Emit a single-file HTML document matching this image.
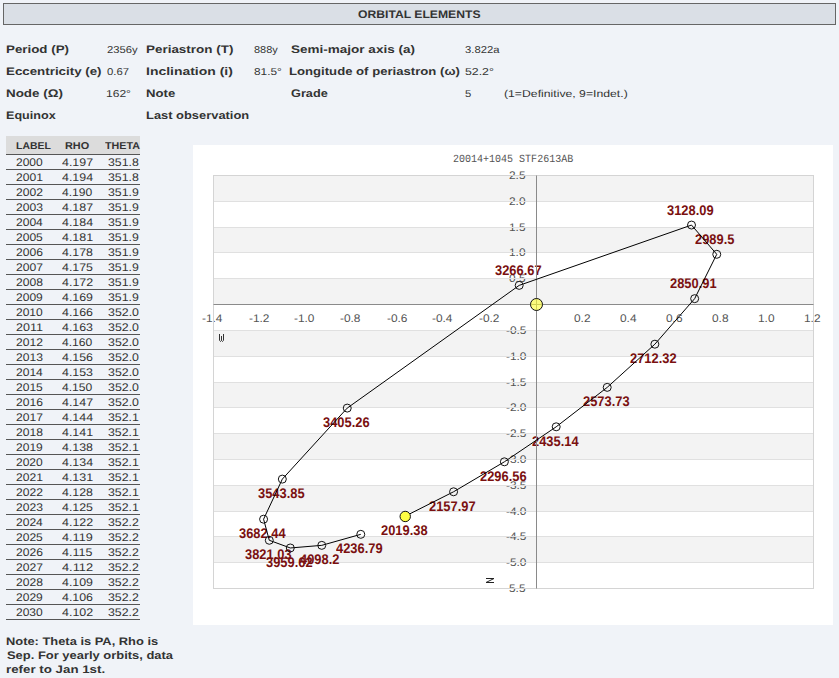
<!DOCTYPE html>
<html><head><meta charset="utf-8"><style>
html,body{margin:0;padding:0;}
body{text-rendering:geometricPrecision;width:839px;height:678px;background:#f0f3f8;position:relative;overflow:hidden;font-family:"Liberation Sans",sans-serif;}
.t{position:absolute;white-space:nowrap;height:0;line-height:0;transform-origin:0 0;}
</style></head><body>
<div style="position:absolute;left:3px;top:3px;width:831px;height:20px;background:#dadfe6;border:1px solid #666"></div>
<div style="position:absolute;left:6px;top:136px;width:134px;height:18px;background:#dcdcdc"></div><div style="position:absolute;left:6px;top:154px;width:134px;height:1px;background:#555"></div><div style="position:absolute;left:6px;top:169px;width:134px;height:1px;background:#555"></div><div style="position:absolute;left:6px;top:184px;width:134px;height:1px;background:#555"></div><div style="position:absolute;left:6px;top:199px;width:134px;height:1px;background:#555"></div><div style="position:absolute;left:6px;top:214px;width:134px;height:1px;background:#555"></div><div style="position:absolute;left:6px;top:229px;width:134px;height:1px;background:#555"></div><div style="position:absolute;left:6px;top:244px;width:134px;height:1px;background:#555"></div><div style="position:absolute;left:6px;top:259px;width:134px;height:1px;background:#555"></div><div style="position:absolute;left:6px;top:274px;width:134px;height:1px;background:#555"></div><div style="position:absolute;left:6px;top:289px;width:134px;height:1px;background:#555"></div><div style="position:absolute;left:6px;top:304px;width:134px;height:1px;background:#555"></div><div style="position:absolute;left:6px;top:319px;width:134px;height:1px;background:#555"></div><div style="position:absolute;left:6px;top:334px;width:134px;height:1px;background:#555"></div><div style="position:absolute;left:6px;top:349px;width:134px;height:1px;background:#555"></div><div style="position:absolute;left:6px;top:364px;width:134px;height:1px;background:#555"></div><div style="position:absolute;left:6px;top:379px;width:134px;height:1px;background:#555"></div><div style="position:absolute;left:6px;top:394px;width:134px;height:1px;background:#555"></div><div style="position:absolute;left:6px;top:409px;width:134px;height:1px;background:#555"></div><div style="position:absolute;left:6px;top:424px;width:134px;height:1px;background:#555"></div><div style="position:absolute;left:6px;top:439px;width:134px;height:1px;background:#555"></div><div style="position:absolute;left:6px;top:454px;width:134px;height:1px;background:#555"></div><div style="position:absolute;left:6px;top:469px;width:134px;height:1px;background:#555"></div><div style="position:absolute;left:6px;top:484px;width:134px;height:1px;background:#555"></div><div style="position:absolute;left:6px;top:499px;width:134px;height:1px;background:#555"></div><div style="position:absolute;left:6px;top:514px;width:134px;height:1px;background:#555"></div><div style="position:absolute;left:6px;top:529px;width:134px;height:1px;background:#555"></div><div style="position:absolute;left:6px;top:544px;width:134px;height:1px;background:#555"></div><div style="position:absolute;left:6px;top:559px;width:134px;height:1px;background:#555"></div><div style="position:absolute;left:6px;top:574px;width:134px;height:1px;background:#555"></div><div style="position:absolute;left:6px;top:589px;width:134px;height:1px;background:#555"></div><div style="position:absolute;left:6px;top:604px;width:134px;height:1px;background:#555"></div><div style="position:absolute;left:6px;top:619px;width:134px;height:1px;background:#555"></div>
<svg width="839" height="678" style="position:absolute;left:0;top:0"><rect x="193" y="145" width="640" height="480" fill="#fff"/><rect x="213" y="175" width="601" height="26" fill="#f3f3f3"/><rect x="213" y="227" width="601" height="25" fill="#f3f3f3"/><rect x="213" y="278" width="601" height="26" fill="#f3f3f3"/><rect x="213" y="330" width="601" height="26" fill="#f3f3f3"/><rect x="213" y="382" width="601" height="25" fill="#f3f3f3"/><rect x="213" y="433" width="601" height="26" fill="#f3f3f3"/><rect x="213" y="485" width="601" height="26" fill="#f3f3f3"/><rect x="213" y="536" width="601" height="26" fill="#f3f3f3"/></svg>
<div class="t" style="left:509.40px;top:176px;font-size:11px;font-weight:normal;font-family:'Liberation Sans';color:#545454;transform:scaleX(1.0800);">2.5</div><div class="t" style="left:509.34px;top:202px;font-size:11px;font-weight:normal;font-family:'Liberation Sans';color:#545454;transform:scaleX(1.0800);">2.0</div><div class="t" style="left:509.40px;top:228px;font-size:11px;font-weight:normal;font-family:'Liberation Sans';color:#545454;transform:scaleX(1.0800);">1.5</div><div class="t" style="left:509.34px;top:253px;font-size:11px;font-weight:normal;font-family:'Liberation Sans';color:#545454;transform:scaleX(1.0800);">1.0</div><div class="t" style="left:509.40px;top:279px;font-size:11px;font-weight:normal;font-family:'Liberation Sans';color:#545454;transform:scaleX(1.0800);">0.5</div><div class="t" style="left:505.78px;top:331px;font-size:11px;font-weight:normal;font-family:'Liberation Sans';color:#545454;transform:scaleX(1.0800);">-0.5</div><div class="t" style="left:505.69px;top:357px;font-size:11px;font-weight:normal;font-family:'Liberation Sans';color:#545454;transform:scaleX(1.0800);">-1.0</div><div class="t" style="left:505.78px;top:383px;font-size:11px;font-weight:normal;font-family:'Liberation Sans';color:#545454;transform:scaleX(1.0800);">-1.5</div><div class="t" style="left:505.69px;top:408px;font-size:11px;font-weight:normal;font-family:'Liberation Sans';color:#545454;transform:scaleX(1.0800);">-2.0</div><div class="t" style="left:505.78px;top:434px;font-size:11px;font-weight:normal;font-family:'Liberation Sans';color:#545454;transform:scaleX(1.0800);">-2.5</div><div class="t" style="left:505.69px;top:460px;font-size:11px;font-weight:normal;font-family:'Liberation Sans';color:#545454;transform:scaleX(1.0800);">-3.0</div><div class="t" style="left:505.78px;top:486px;font-size:11px;font-weight:normal;font-family:'Liberation Sans';color:#545454;transform:scaleX(1.0800);">-3.5</div><div class="t" style="left:505.69px;top:512px;font-size:11px;font-weight:normal;font-family:'Liberation Sans';color:#545454;transform:scaleX(1.0800);">-4.0</div><div class="t" style="left:505.78px;top:537px;font-size:11px;font-weight:normal;font-family:'Liberation Sans';color:#545454;transform:scaleX(1.0800);">-4.5</div><div class="t" style="left:505.69px;top:563px;font-size:11px;font-weight:normal;font-family:'Liberation Sans';color:#545454;transform:scaleX(1.0800);">-5.0</div><div class="t" style="left:509.40px;top:589px;font-size:11px;font-weight:normal;font-family:'Liberation Sans';color:#545454;transform:scaleX(1.0800);">5.5</div><div class="t" style="left:202.02px;top:319px;font-size:11px;font-weight:normal;font-family:'Liberation Sans';color:#545454;transform:scaleX(1.0800);">-1.4</div><div class="t" style="left:248.51px;top:319px;font-size:11px;font-weight:normal;font-family:'Liberation Sans';color:#545454;transform:scaleX(1.0800);">-1.2</div><div class="t" style="left:293.89px;top:319px;font-size:11px;font-weight:normal;font-family:'Liberation Sans';color:#545454;transform:scaleX(1.0800);">-1.0</div><div class="t" style="left:340.42px;top:319px;font-size:11px;font-weight:normal;font-family:'Liberation Sans';color:#545454;transform:scaleX(1.0800);">-0.8</div><div class="t" style="left:386.86px;top:319px;font-size:11px;font-weight:normal;font-family:'Liberation Sans';color:#545454;transform:scaleX(1.0800);">-0.6</div><div class="t" style="left:432.33px;top:319px;font-size:11px;font-weight:normal;font-family:'Liberation Sans';color:#545454;transform:scaleX(1.0800);">-0.4</div><div class="t" style="left:478.82px;top:319px;font-size:11px;font-weight:normal;font-family:'Liberation Sans';color:#545454;transform:scaleX(1.0800);">-0.2</div><div class="t" style="left:573.79px;top:319px;font-size:11px;font-weight:normal;font-family:'Liberation Sans';color:#545454;transform:scaleX(1.0800);">0.2</div><div class="t" style="left:620.20px;top:319px;font-size:11px;font-weight:normal;font-family:'Liberation Sans';color:#545454;transform:scaleX(1.0800);">0.4</div><div class="t" style="left:665.62px;top:319px;font-size:11px;font-weight:normal;font-family:'Liberation Sans';color:#545454;transform:scaleX(1.0800);">0.6</div><div class="t" style="left:712.11px;top:319px;font-size:11px;font-weight:normal;font-family:'Liberation Sans';color:#545454;transform:scaleX(1.0800);">0.8</div><div class="t" style="left:758.22px;top:319px;font-size:11px;font-weight:normal;font-family:'Liberation Sans';color:#545454;transform:scaleX(1.0800);">1.0</div><div class="t" style="left:803.83px;top:319px;font-size:11px;font-weight:normal;font-family:'Liberation Sans';color:#545454;transform:scaleX(1.0800);">1.2</div>
<svg width="839" height="678" style="position:absolute;left:0;top:0"><line x1="213.5" x2="813.5" y1="201.5" y2="201.5" stroke="#e0e0e0" stroke-width="1"/><line x1="213.5" x2="813.5" y1="227.5" y2="227.5" stroke="#e0e0e0" stroke-width="1"/><line x1="213.5" x2="813.5" y1="252.5" y2="252.5" stroke="#e0e0e0" stroke-width="1"/><line x1="213.5" x2="813.5" y1="278.5" y2="278.5" stroke="#e0e0e0" stroke-width="1"/><line x1="213.5" x2="813.5" y1="330.5" y2="330.5" stroke="#e0e0e0" stroke-width="1"/><line x1="213.5" x2="813.5" y1="356.5" y2="356.5" stroke="#e0e0e0" stroke-width="1"/><line x1="213.5" x2="813.5" y1="382.5" y2="382.5" stroke="#e0e0e0" stroke-width="1"/><line x1="213.5" x2="813.5" y1="407.5" y2="407.5" stroke="#e0e0e0" stroke-width="1"/><line x1="213.5" x2="813.5" y1="433.5" y2="433.5" stroke="#e0e0e0" stroke-width="1"/><line x1="213.5" x2="813.5" y1="459.5" y2="459.5" stroke="#e0e0e0" stroke-width="1"/><line x1="213.5" x2="813.5" y1="485.5" y2="485.5" stroke="#e0e0e0" stroke-width="1"/><line x1="213.5" x2="813.5" y1="511.5" y2="511.5" stroke="#e0e0e0" stroke-width="1"/><line x1="213.5" x2="813.5" y1="536.5" y2="536.5" stroke="#e0e0e0" stroke-width="1"/><line x1="213.5" x2="813.5" y1="562.5" y2="562.5" stroke="#e0e0e0" stroke-width="1"/><rect x="213.5" y="175.5" width="600" height="413" fill="none" stroke="#d4d4d4" stroke-width="1"/></svg>
<div class="t" style="left:358.23px;top:15px;font-size:11px;font-weight:bold;font-family:'Liberation Sans';color:#333;transform:scaleX(1.1055);">ORBITAL ELEMENTS</div><div class="t" style="left:6.03px;top:50px;font-size:11px;font-weight:bold;font-family:'Liberation Sans';color:#333;transform:scaleX(1.2123);">Period (P)</div><div class="t" style="left:106.51px;top:51px;font-size:10px;font-weight:normal;font-family:'Liberation Sans';color:#333;transform:scaleX(1.1251);">2356y</div><div class="t" style="left:145.73px;top:50px;font-size:11px;font-weight:bold;font-family:'Liberation Sans';color:#333;transform:scaleX(1.2216);">Periastron (T)</div><div class="t" style="left:253.50px;top:51px;font-size:10px;font-weight:normal;font-family:'Liberation Sans';color:#333;transform:scaleX(1.0972);">888y</div><div class="t" style="left:290.63px;top:50px;font-size:11px;font-weight:bold;font-family:'Liberation Sans';color:#333;transform:scaleX(1.2287);">Semi-major axis (a)</div><div class="t" style="left:465.15px;top:51px;font-size:10px;font-weight:normal;font-family:'Liberation Sans';color:#333;transform:scaleX(1.1273);">3.822a</div><div class="t" style="left:5.73px;top:72px;font-size:11px;font-weight:bold;font-family:'Liberation Sans';color:#333;transform:scaleX(1.2115);">Eccentricity (e)</div><div class="t" style="left:106.52px;top:73px;font-size:10px;font-weight:normal;font-family:'Liberation Sans';color:#333;transform:scaleX(1.1333);">0.67</div><div class="t" style="left:145.65px;top:72px;font-size:11px;font-weight:bold;font-family:'Liberation Sans';color:#333;transform:scaleX(1.2688);">Inclination (i)</div><div class="t" style="left:253.51px;top:73px;font-size:10px;font-weight:normal;font-family:'Liberation Sans';color:#333;transform:scaleX(1.1837);">81.5°</div><div class="t" style="left:289.27px;top:72px;font-size:11px;font-weight:bold;font-family:'Liberation Sans';color:#333;transform:scaleX(1.1938);">Longitude of periastron (ω)</div><div class="t" style="left:464.96px;top:73px;font-size:10px;font-weight:normal;font-family:'Liberation Sans';color:#333;transform:scaleX(1.2312);">52.2°</div><div class="t" style="left:5.73px;top:94px;font-size:11px;font-weight:bold;font-family:'Liberation Sans';color:#333;transform:scaleX(1.2186);">Node (Ω)</div><div class="t" style="left:105.77px;top:95px;font-size:10px;font-weight:normal;font-family:'Liberation Sans';color:#333;transform:scaleX(1.2054);">162°</div><div class="t" style="left:145.77px;top:94px;font-size:11px;font-weight:bold;font-family:'Liberation Sans';color:#333;transform:scaleX(1.1948);">Note</div><div class="t" style="left:290.63px;top:94px;font-size:11px;font-weight:bold;font-family:'Liberation Sans';color:#333;transform:scaleX(1.1564);">Grade</div><div class="t" style="left:465.07px;top:95px;font-size:10px;font-weight:normal;font-family:'Liberation Sans';color:#333;transform:scaleX(1.1261);">5</div><div class="t" style="left:504.34px;top:95px;font-size:10px;font-weight:normal;font-family:'Liberation Sans';color:#333;transform:scaleX(1.2230);">(1=Definitive, 9=Indet.)</div><div class="t" style="left:5.88px;top:116px;font-size:11px;font-weight:bold;font-family:'Liberation Sans';color:#333;transform:scaleX(1.1440);">Equinox</div><div class="t" style="left:145.78px;top:116px;font-size:11px;font-weight:bold;font-family:'Liberation Sans';color:#333;transform:scaleX(1.1722);">Last observation</div><div class="t" style="left:16.17px;top:147px;font-size:10px;font-weight:bold;font-family:'Liberation Sans';color:#333;transform:scaleX(1.0441);">LABEL</div><div class="t" style="left:64.80px;top:147px;font-size:10px;font-weight:bold;font-family:'Liberation Sans';color:#333;transform:scaleX(1.0896);">RHO</div><div class="t" style="left:104.59px;top:147px;font-size:10px;font-weight:bold;font-family:'Liberation Sans';color:#333;transform:scaleX(1.0721);">THETA</div><div class="t" style="left:16.41px;top:163px;font-size:11px;font-weight:normal;font-family:'Liberation Sans';color:#333;transform:scaleX(1.0925);">2000</div><div class="t" style="left:61.84px;top:163px;font-size:11px;font-weight:normal;font-family:'Liberation Sans';color:#333;transform:scaleX(1.1281);">4.197</div><div class="t" style="left:108.42px;top:163px;font-size:11px;font-weight:normal;font-family:'Liberation Sans';color:#333;transform:scaleX(1.1195);">351.8</div><div class="t" style="left:16.41px;top:178px;font-size:11px;font-weight:normal;font-family:'Liberation Sans';color:#333;transform:scaleX(1.0979);">2001</div><div class="t" style="left:61.85px;top:178px;font-size:11px;font-weight:normal;font-family:'Liberation Sans';color:#333;transform:scaleX(1.1283);">4.194</div><div class="t" style="left:108.42px;top:178px;font-size:11px;font-weight:normal;font-family:'Liberation Sans';color:#333;transform:scaleX(1.1195);">351.8</div><div class="t" style="left:16.41px;top:193px;font-size:11px;font-weight:normal;font-family:'Liberation Sans';color:#333;transform:scaleX(1.0983);">2002</div><div class="t" style="left:61.84px;top:193px;font-size:11px;font-weight:normal;font-family:'Liberation Sans';color:#333;transform:scaleX(1.1004);">4.190</div><div class="t" style="left:108.42px;top:193px;font-size:11px;font-weight:normal;font-family:'Liberation Sans';color:#333;transform:scaleX(1.1207);">351.9</div><div class="t" style="left:16.41px;top:208px;font-size:11px;font-weight:normal;font-family:'Liberation Sans';color:#333;transform:scaleX(1.1000);">2003</div><div class="t" style="left:61.84px;top:208px;font-size:11px;font-weight:normal;font-family:'Liberation Sans';color:#333;transform:scaleX(1.1281);">4.187</div><div class="t" style="left:108.42px;top:208px;font-size:11px;font-weight:normal;font-family:'Liberation Sans';color:#333;transform:scaleX(1.1207);">351.9</div><div class="t" style="left:16.41px;top:223px;font-size:11px;font-weight:normal;font-family:'Liberation Sans';color:#333;transform:scaleX(1.0965);">2004</div><div class="t" style="left:61.85px;top:223px;font-size:11px;font-weight:normal;font-family:'Liberation Sans';color:#333;transform:scaleX(1.1283);">4.184</div><div class="t" style="left:108.42px;top:223px;font-size:11px;font-weight:normal;font-family:'Liberation Sans';color:#333;transform:scaleX(1.1207);">351.9</div><div class="t" style="left:16.41px;top:238px;font-size:11px;font-weight:normal;font-family:'Liberation Sans';color:#333;transform:scaleX(1.0964);">2005</div><div class="t" style="left:61.85px;top:238px;font-size:11px;font-weight:normal;font-family:'Liberation Sans';color:#333;transform:scaleX(1.1303);">4.181</div><div class="t" style="left:108.42px;top:238px;font-size:11px;font-weight:normal;font-family:'Liberation Sans';color:#333;transform:scaleX(1.1207);">351.9</div><div class="t" style="left:16.41px;top:253px;font-size:11px;font-weight:normal;font-family:'Liberation Sans';color:#333;transform:scaleX(1.0973);">2006</div><div class="t" style="left:61.85px;top:253px;font-size:11px;font-weight:normal;font-family:'Liberation Sans';color:#333;transform:scaleX(1.1235);">4.178</div><div class="t" style="left:108.42px;top:253px;font-size:11px;font-weight:normal;font-family:'Liberation Sans';color:#333;transform:scaleX(1.1207);">351.9</div><div class="t" style="left:16.41px;top:268px;font-size:11px;font-weight:normal;font-family:'Liberation Sans';color:#333;transform:scaleX(1.1024);">2007</div><div class="t" style="left:61.84px;top:268px;font-size:11px;font-weight:normal;font-family:'Liberation Sans';color:#333;transform:scaleX(1.1258);">4.175</div><div class="t" style="left:108.42px;top:268px;font-size:11px;font-weight:normal;font-family:'Liberation Sans';color:#333;transform:scaleX(1.1207);">351.9</div><div class="t" style="left:16.41px;top:283px;font-size:11px;font-weight:normal;font-family:'Liberation Sans';color:#333;transform:scaleX(1.0996);">2008</div><div class="t" style="left:61.85px;top:283px;font-size:11px;font-weight:normal;font-family:'Liberation Sans';color:#333;transform:scaleX(1.1311);">4.172</div><div class="t" style="left:108.42px;top:283px;font-size:11px;font-weight:normal;font-family:'Liberation Sans';color:#333;transform:scaleX(1.1207);">351.9</div><div class="t" style="left:16.41px;top:298px;font-size:11px;font-weight:normal;font-family:'Liberation Sans';color:#333;transform:scaleX(1.0935);">2009</div><div class="t" style="left:61.85px;top:298px;font-size:11px;font-weight:normal;font-family:'Liberation Sans';color:#333;transform:scaleX(1.1248);">4.169</div><div class="t" style="left:108.42px;top:298px;font-size:11px;font-weight:normal;font-family:'Liberation Sans';color:#333;transform:scaleX(1.1207);">351.9</div><div class="t" style="left:16.41px;top:313px;font-size:11px;font-weight:normal;font-family:'Liberation Sans';color:#333;transform:scaleX(1.0925);">2010</div><div class="t" style="left:61.84px;top:313px;font-size:11px;font-weight:normal;font-family:'Liberation Sans';color:#333;transform:scaleX(1.1265);">4.166</div><div class="t" style="left:108.41px;top:313px;font-size:11px;font-weight:normal;font-family:'Liberation Sans';color:#333;transform:scaleX(1.1243);">352.0</div><div class="t" style="left:16.41px;top:328px;font-size:11px;font-weight:normal;font-family:'Liberation Sans';color:#333;transform:scaleX(1.1358);">2011</div><div class="t" style="left:61.85px;top:328px;font-size:11px;font-weight:normal;font-family:'Liberation Sans';color:#333;transform:scaleX(1.1239);">4.163</div><div class="t" style="left:108.41px;top:328px;font-size:11px;font-weight:normal;font-family:'Liberation Sans';color:#333;transform:scaleX(1.1243);">352.0</div><div class="t" style="left:16.41px;top:343px;font-size:11px;font-weight:normal;font-family:'Liberation Sans';color:#333;transform:scaleX(1.0983);">2012</div><div class="t" style="left:61.84px;top:343px;font-size:11px;font-weight:normal;font-family:'Liberation Sans';color:#333;transform:scaleX(1.1004);">4.160</div><div class="t" style="left:108.41px;top:343px;font-size:11px;font-weight:normal;font-family:'Liberation Sans';color:#333;transform:scaleX(1.1243);">352.0</div><div class="t" style="left:16.41px;top:358px;font-size:11px;font-weight:normal;font-family:'Liberation Sans';color:#333;transform:scaleX(1.1000);">2013</div><div class="t" style="left:61.84px;top:358px;font-size:11px;font-weight:normal;font-family:'Liberation Sans';color:#333;transform:scaleX(1.1265);">4.156</div><div class="t" style="left:108.41px;top:358px;font-size:11px;font-weight:normal;font-family:'Liberation Sans';color:#333;transform:scaleX(1.1243);">352.0</div><div class="t" style="left:16.41px;top:373px;font-size:11px;font-weight:normal;font-family:'Liberation Sans';color:#333;transform:scaleX(1.0965);">2014</div><div class="t" style="left:61.85px;top:373px;font-size:11px;font-weight:normal;font-family:'Liberation Sans';color:#333;transform:scaleX(1.1239);">4.153</div><div class="t" style="left:108.41px;top:373px;font-size:11px;font-weight:normal;font-family:'Liberation Sans';color:#333;transform:scaleX(1.1243);">352.0</div><div class="t" style="left:16.41px;top:388px;font-size:11px;font-weight:normal;font-family:'Liberation Sans';color:#333;transform:scaleX(1.0964);">2015</div><div class="t" style="left:61.84px;top:388px;font-size:11px;font-weight:normal;font-family:'Liberation Sans';color:#333;transform:scaleX(1.1004);">4.150</div><div class="t" style="left:108.41px;top:388px;font-size:11px;font-weight:normal;font-family:'Liberation Sans';color:#333;transform:scaleX(1.1243);">352.0</div><div class="t" style="left:16.41px;top:403px;font-size:11px;font-weight:normal;font-family:'Liberation Sans';color:#333;transform:scaleX(1.0973);">2016</div><div class="t" style="left:61.84px;top:403px;font-size:11px;font-weight:normal;font-family:'Liberation Sans';color:#333;transform:scaleX(1.1281);">4.147</div><div class="t" style="left:108.41px;top:403px;font-size:11px;font-weight:normal;font-family:'Liberation Sans';color:#333;transform:scaleX(1.1243);">352.0</div><div class="t" style="left:16.41px;top:418px;font-size:11px;font-weight:normal;font-family:'Liberation Sans';color:#333;transform:scaleX(1.1024);">2017</div><div class="t" style="left:61.85px;top:418px;font-size:11px;font-weight:normal;font-family:'Liberation Sans';color:#333;transform:scaleX(1.1283);">4.144</div><div class="t" style="left:108.42px;top:418px;font-size:11px;font-weight:normal;font-family:'Liberation Sans';color:#333;transform:scaleX(1.1224);">352.1</div><div class="t" style="left:16.41px;top:433px;font-size:11px;font-weight:normal;font-family:'Liberation Sans';color:#333;transform:scaleX(1.0996);">2018</div><div class="t" style="left:61.85px;top:433px;font-size:11px;font-weight:normal;font-family:'Liberation Sans';color:#333;transform:scaleX(1.1303);">4.141</div><div class="t" style="left:108.42px;top:433px;font-size:11px;font-weight:normal;font-family:'Liberation Sans';color:#333;transform:scaleX(1.1224);">352.1</div><div class="t" style="left:16.41px;top:448px;font-size:11px;font-weight:normal;font-family:'Liberation Sans';color:#333;transform:scaleX(1.0935);">2019</div><div class="t" style="left:61.85px;top:448px;font-size:11px;font-weight:normal;font-family:'Liberation Sans';color:#333;transform:scaleX(1.1235);">4.138</div><div class="t" style="left:108.42px;top:448px;font-size:11px;font-weight:normal;font-family:'Liberation Sans';color:#333;transform:scaleX(1.1224);">352.1</div><div class="t" style="left:16.41px;top:463px;font-size:11px;font-weight:normal;font-family:'Liberation Sans';color:#333;transform:scaleX(1.0925);">2020</div><div class="t" style="left:61.85px;top:463px;font-size:11px;font-weight:normal;font-family:'Liberation Sans';color:#333;transform:scaleX(1.1283);">4.134</div><div class="t" style="left:108.42px;top:463px;font-size:11px;font-weight:normal;font-family:'Liberation Sans';color:#333;transform:scaleX(1.1224);">352.1</div><div class="t" style="left:16.41px;top:478px;font-size:11px;font-weight:normal;font-family:'Liberation Sans';color:#333;transform:scaleX(1.0979);">2021</div><div class="t" style="left:61.85px;top:478px;font-size:11px;font-weight:normal;font-family:'Liberation Sans';color:#333;transform:scaleX(1.1303);">4.131</div><div class="t" style="left:108.42px;top:478px;font-size:11px;font-weight:normal;font-family:'Liberation Sans';color:#333;transform:scaleX(1.1224);">352.1</div><div class="t" style="left:16.41px;top:493px;font-size:11px;font-weight:normal;font-family:'Liberation Sans';color:#333;transform:scaleX(1.0983);">2022</div><div class="t" style="left:61.85px;top:493px;font-size:11px;font-weight:normal;font-family:'Liberation Sans';color:#333;transform:scaleX(1.1235);">4.128</div><div class="t" style="left:108.42px;top:493px;font-size:11px;font-weight:normal;font-family:'Liberation Sans';color:#333;transform:scaleX(1.1224);">352.1</div><div class="t" style="left:16.41px;top:508px;font-size:11px;font-weight:normal;font-family:'Liberation Sans';color:#333;transform:scaleX(1.1000);">2023</div><div class="t" style="left:61.84px;top:508px;font-size:11px;font-weight:normal;font-family:'Liberation Sans';color:#333;transform:scaleX(1.1258);">4.125</div><div class="t" style="left:108.42px;top:508px;font-size:11px;font-weight:normal;font-family:'Liberation Sans';color:#333;transform:scaleX(1.1224);">352.1</div><div class="t" style="left:16.41px;top:523px;font-size:11px;font-weight:normal;font-family:'Liberation Sans';color:#333;transform:scaleX(1.0965);">2024</div><div class="t" style="left:61.85px;top:523px;font-size:11px;font-weight:normal;font-family:'Liberation Sans';color:#333;transform:scaleX(1.1311);">4.122</div><div class="t" style="left:108.42px;top:523px;font-size:11px;font-weight:normal;font-family:'Liberation Sans';color:#333;transform:scaleX(1.1232);">352.2</div><div class="t" style="left:16.41px;top:538px;font-size:11px;font-weight:normal;font-family:'Liberation Sans';color:#333;transform:scaleX(1.0964);">2025</div><div class="t" style="left:61.86px;top:538px;font-size:11px;font-weight:normal;font-family:'Liberation Sans';color:#333;transform:scaleX(1.1490);">4.119</div><div class="t" style="left:108.42px;top:538px;font-size:11px;font-weight:normal;font-family:'Liberation Sans';color:#333;transform:scaleX(1.1232);">352.2</div><div class="t" style="left:16.41px;top:553px;font-size:11px;font-weight:normal;font-family:'Liberation Sans';color:#333;transform:scaleX(1.0973);">2026</div><div class="t" style="left:61.84px;top:553px;font-size:11px;font-weight:normal;font-family:'Liberation Sans';color:#333;transform:scaleX(1.1380);">4.115</div><div class="t" style="left:108.42px;top:553px;font-size:11px;font-weight:normal;font-family:'Liberation Sans';color:#333;transform:scaleX(1.1232);">352.2</div><div class="t" style="left:16.41px;top:568px;font-size:11px;font-weight:normal;font-family:'Liberation Sans';color:#333;transform:scaleX(1.1024);">2027</div><div class="t" style="left:61.85px;top:568px;font-size:11px;font-weight:normal;font-family:'Liberation Sans';color:#333;transform:scaleX(1.1642);">4.112</div><div class="t" style="left:108.42px;top:568px;font-size:11px;font-weight:normal;font-family:'Liberation Sans';color:#333;transform:scaleX(1.1232);">352.2</div><div class="t" style="left:16.41px;top:583px;font-size:11px;font-weight:normal;font-family:'Liberation Sans';color:#333;transform:scaleX(1.0996);">2028</div><div class="t" style="left:61.85px;top:583px;font-size:11px;font-weight:normal;font-family:'Liberation Sans';color:#333;transform:scaleX(1.1248);">4.109</div><div class="t" style="left:108.42px;top:583px;font-size:11px;font-weight:normal;font-family:'Liberation Sans';color:#333;transform:scaleX(1.1232);">352.2</div><div class="t" style="left:16.41px;top:598px;font-size:11px;font-weight:normal;font-family:'Liberation Sans';color:#333;transform:scaleX(1.0935);">2029</div><div class="t" style="left:61.84px;top:598px;font-size:11px;font-weight:normal;font-family:'Liberation Sans';color:#333;transform:scaleX(1.1265);">4.106</div><div class="t" style="left:108.42px;top:598px;font-size:11px;font-weight:normal;font-family:'Liberation Sans';color:#333;transform:scaleX(1.1232);">352.2</div><div class="t" style="left:16.41px;top:613px;font-size:11px;font-weight:normal;font-family:'Liberation Sans';color:#333;transform:scaleX(1.0925);">2030</div><div class="t" style="left:61.85px;top:613px;font-size:11px;font-weight:normal;font-family:'Liberation Sans';color:#333;transform:scaleX(1.1311);">4.102</div><div class="t" style="left:108.42px;top:613px;font-size:11px;font-weight:normal;font-family:'Liberation Sans';color:#333;transform:scaleX(1.1232);">352.2</div><div class="t" style="left:5.80px;top:642px;font-size:11px;font-weight:bold;font-family:'Liberation Sans';color:#333;transform:scaleX(1.1704);">Note: Theta is PA, Rho is</div><div class="t" style="left:7.12px;top:656px;font-size:11px;font-weight:bold;font-family:'Liberation Sans';color:#333;transform:scaleX(1.1755);">Sep. For yearly orbits, data</div><div class="t" style="left:5.65px;top:670px;font-size:11px;font-weight:bold;font-family:'Liberation Sans';color:#333;transform:scaleX(1.2104);">refer to Jan 1st.</div><div class="t" style="left:452.76px;top:160px;font-size:11px;font-weight:normal;font-family:'Liberation Mono';color:#555;transform:scaleX(0.9103);">20014+1045 STF2613AB</div>
<div class="t" style="left:381.00px;top:530px;font-size:14px;font-weight:bold;font-family:'Liberation Sans';color:#7a1010;transform:scaleX(0.9200);">2019.38</div><div class="t" style="left:429.12px;top:506px;font-size:14px;font-weight:bold;font-family:'Liberation Sans';color:#7a1010;transform:scaleX(0.9200);">2157.97</div><div class="t" style="left:480.09px;top:476px;font-size:14px;font-weight:bold;font-family:'Liberation Sans';color:#7a1010;transform:scaleX(0.9200);">2296.56</div><div class="t" style="left:531.95px;top:441px;font-size:14px;font-weight:bold;font-family:'Liberation Sans';color:#7a1010;transform:scaleX(0.9200);">2435.14</div><div class="t" style="left:583.09px;top:401px;font-size:14px;font-weight:bold;font-family:'Liberation Sans';color:#7a1010;transform:scaleX(0.9200);">2573.73</div><div class="t" style="left:630.09px;top:358px;font-size:14px;font-weight:bold;font-family:'Liberation Sans';color:#7a1010;transform:scaleX(0.9200);">2712.32</div><div class="t" style="left:669.92px;top:283px;font-size:14px;font-weight:bold;font-family:'Liberation Sans';color:#7a1010;transform:scaleX(0.9200);">2850.91</div><div class="t" style="left:695.11px;top:239px;font-size:14px;font-weight:bold;font-family:'Liberation Sans';color:#7a1010;transform:scaleX(0.9200);">2989.5</div><div class="t" style="left:667.04px;top:210px;font-size:14px;font-weight:bold;font-family:'Liberation Sans';color:#7a1010;transform:scaleX(0.9200);">3128.09</div><div class="t" style="left:495.12px;top:270px;font-size:14px;font-weight:bold;font-family:'Liberation Sans';color:#7a1010;transform:scaleX(0.9200);">3266.67</div><div class="t" style="left:323.09px;top:422px;font-size:14px;font-weight:bold;font-family:'Liberation Sans';color:#7a1010;transform:scaleX(0.9200);">3405.26</div><div class="t" style="left:257.96px;top:493px;font-size:14px;font-weight:bold;font-family:'Liberation Sans';color:#7a1010;transform:scaleX(0.9200);">3543.85</div><div class="t" style="left:238.95px;top:533px;font-size:14px;font-weight:bold;font-family:'Liberation Sans';color:#7a1010;transform:scaleX(0.9200);">3682.44</div><div class="t" style="left:245.09px;top:554px;font-size:14px;font-weight:bold;font-family:'Liberation Sans';color:#7a1010;transform:scaleX(0.9200);">3821.03</div><div class="t" style="left:266.09px;top:562px;font-size:14px;font-weight:bold;font-family:'Liberation Sans';color:#7a1010;transform:scaleX(0.9200);">3959.62</div><div class="t" style="left:300.19px;top:559px;font-size:14px;font-weight:bold;font-family:'Liberation Sans';color:#7a1010;transform:scaleX(0.9200);">4098.2</div><div class="t" style="left:336.04px;top:548px;font-size:14px;font-weight:bold;font-family:'Liberation Sans';color:#7a1010;transform:scaleX(0.9200);">4236.79</div>
<svg width="839" height="678" style="position:absolute;left:0;top:0"><line x1="213.5" x2="813.5" y1="304.5" y2="304.5" stroke="#8a8a8a" stroke-width="1"/><line x1="536.5" x2="536.5" y1="175.5" y2="588.5" stroke="#8a8a8a" stroke-width="1"/><polyline points="405.23,516.17 453.58,491.77 504.38,461.80 556.19,426.81 607.21,387.37 654.87,344.20 694.66,298.66 716.75,254.31 691.50,225.06 519.18,285.39 347.24,408.09 282.34,479.10 263.59,519.20 269.29,540.29 290.29,547.97 321.77,545.35 360.77,534.33" fill="none" stroke="#000" stroke-width="1"/><circle cx="453.58" cy="491.77" r="4" fill="none" stroke="#111" stroke-width="1"/><circle cx="504.38" cy="461.80" r="4" fill="none" stroke="#111" stroke-width="1"/><circle cx="556.19" cy="426.81" r="4" fill="none" stroke="#111" stroke-width="1"/><circle cx="607.21" cy="387.37" r="4" fill="none" stroke="#111" stroke-width="1"/><circle cx="654.87" cy="344.20" r="4" fill="none" stroke="#111" stroke-width="1"/><circle cx="694.66" cy="298.66" r="4" fill="none" stroke="#111" stroke-width="1"/><circle cx="716.75" cy="254.31" r="4" fill="none" stroke="#111" stroke-width="1"/><circle cx="691.50" cy="225.06" r="4" fill="none" stroke="#111" stroke-width="1"/><circle cx="519.18" cy="285.39" r="4" fill="none" stroke="#111" stroke-width="1"/><circle cx="347.24" cy="408.09" r="4" fill="none" stroke="#111" stroke-width="1"/><circle cx="282.34" cy="479.10" r="4" fill="none" stroke="#111" stroke-width="1"/><circle cx="263.59" cy="519.20" r="4" fill="none" stroke="#111" stroke-width="1"/><circle cx="269.29" cy="540.29" r="4" fill="none" stroke="#111" stroke-width="1"/><circle cx="290.29" cy="547.97" r="4" fill="none" stroke="#111" stroke-width="1"/><circle cx="321.77" cy="545.35" r="4" fill="none" stroke="#111" stroke-width="1"/><circle cx="360.77" cy="534.33" r="4" fill="none" stroke="#111" stroke-width="1"/><circle cx="405.23" cy="516.47" r="5.2" fill="#ffff44" stroke="#111" stroke-width="1"/><circle cx="536.5" cy="304.5" r="6" fill="#ffff30" fill-opacity="0.6" stroke="#111" stroke-width="1"/><path d="M219.5,334 V340.3 L220.5,341.5 L221.5,340.5 L222.5,341.5 L223.5,340.3 V334 M221.5,336 V340.5" fill="none" stroke="#333" stroke-width="1"/><path d="M486,578.5 H494 M486,582.5 H494 M494,578.5 L486,582.5" fill="none" stroke="#222" stroke-width="1"/></svg>
</body></html>
